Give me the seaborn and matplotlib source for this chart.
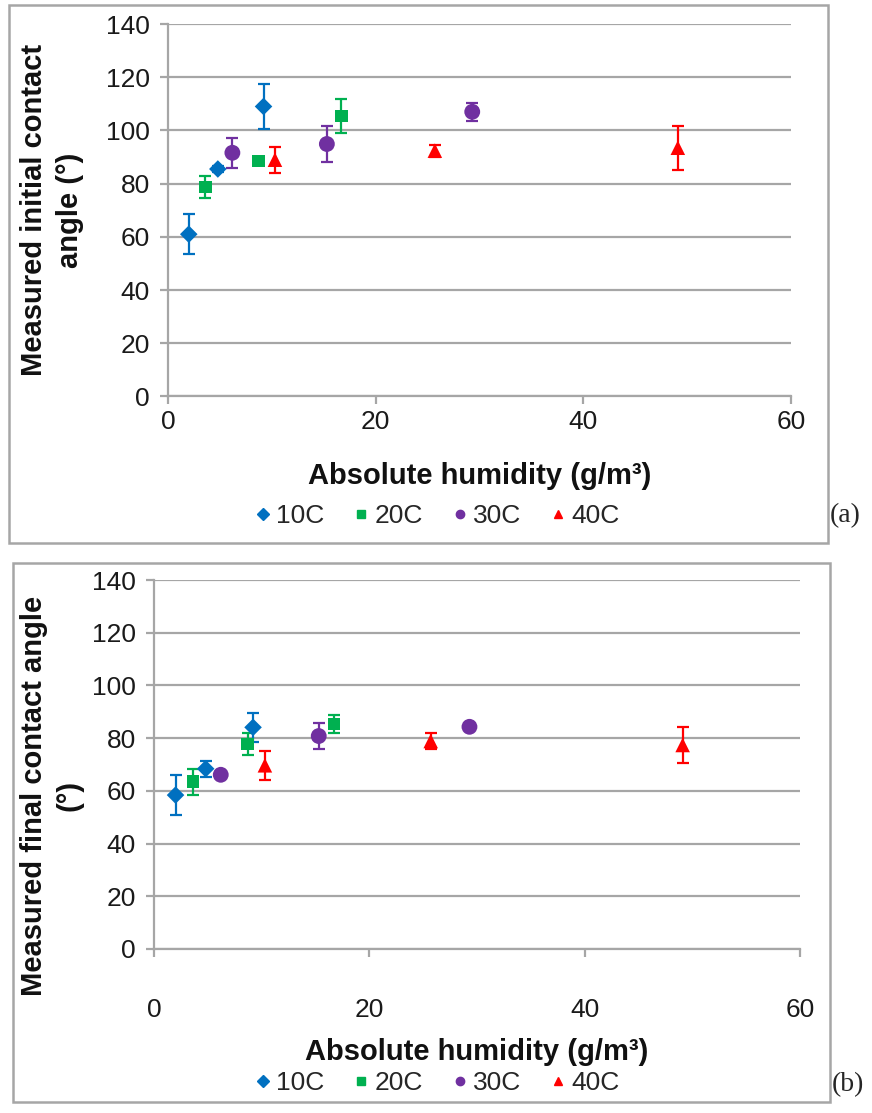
import pandas as pd
import matplotlib
matplotlib.use("Agg")
import matplotlib.pyplot as plt
import seaborn as sns
from matplotlib.patches import Rectangle
from matplotlib.lines import Line2D

# datos
temps = ["10C", "20C", "30C", "40C"]
hum_10 = [2.0, 4.8, 9.2]
hum_20 = [3.6, 8.7, 16.7]
hum_30 = [6.2, 15.3, 29.3]
hum_40 = [10.3, 25.7, 49.1]

ini_10 = [61.0, 85.5, 109.0]
ini_20 = [78.7, 88.6, 105.4]
ini_30 = [91.6, 94.9, 107.0]
ini_40 = [89.0, 92.4, 93.5]
ini_err_10 = [7.5, 1.2, 8.6]
ini_err_20 = [4.2, 1.0, 6.4]
ini_err_30 = [5.6, 6.7, 3.4]
ini_err_40 = [4.9, 2.2, 8.3]

fin_10 = [58.4, 68.4, 84.1]
fin_20 = [63.5, 77.8, 85.4]
fin_30 = [66.1, 80.8, 84.3]
fin_40 = [69.7, 78.9, 77.4]
fin_err_10 = [7.5, 3.1, 5.6]
fin_err_20 = [4.9, 4.2, 3.5]
fin_err_30 = [1.0, 5.0, 1.0]
fin_err_40 = [5.4, 3.0, 7.0]

colores = {"10C": "#0070C0", "20C": "#00B050", "30C": "#7030A0", "40C": "#FF0000"}
marcadores = {"10C": "D", "20C": "s", "30C": "o", "40C": "^"}
tam = {"10C": 80, "20C": 80, "30C": 130, "40C": 110}

def tabla(vals, errs):
    hums = [hum_10, hum_20, hum_30, hum_40]
    filas = []
    for t, h, v, e in zip(temps, hums, vals, errs):
        for hi, vi, ei in zip(h, v, e):
            filas.append({"temp": t, "hum": hi, "ang": vi, "err": ei})
    return pd.DataFrame(filas)

df_ini = tabla([ini_10, ini_20, ini_30, ini_40], [ini_err_10, ini_err_20, ini_err_30, ini_err_40])
df_fin = tabla([fin_10, fin_20, fin_30, fin_40], [fin_err_10, fin_err_20, fin_err_30, fin_err_40])

sns.set_theme(style="white")
plt.rcParams["font.family"] = ["Liberation Sans", "DejaVu Sans"]
gris = "#a6a6a6"

fig = plt.figure(figsize=(8.72, 11.13), dpi=100)
W, H = 872, 1113

def px(x0, y0, x1, y1):
    return [x0 / W, 1 - y1 / H, (x1 - x0) / W, (y1 - y0) / H]

# marcos
fig.patches.append(Rectangle((9 / W, 1 - 543 / H), 819 / W, 538 / H, transform=fig.transFigure,
                             fill=False, edgecolor=gris, lw=1.8))
fig.patches.append(Rectangle((13 / W, 1 - 1102 / H), 817 / W, 539 / H, transform=fig.transFigure,
                             fill=False, edgecolor=gris, lw=1.8))

def dibujar(ax, df, ylabel, xpad, ylab_pos, xlab_y):
    for t in temps:
        sub = df[df["temp"] == t]
        ax.errorbar(sub["hum"], sub["ang"], yerr=sub["err"], fmt="none",
                    ecolor=colores[t], elinewidth=1.6, capsize=4, capthick=1.6, zorder=3)
    sns.scatterplot(data=df, x="hum", y="ang", hue="temp", style="temp",
                    palette=colores, markers=marcadores, size="temp", sizes=tam,
                    edgecolor="none", legend=False, ax=ax, zorder=4)
    ax.set_xlim(0, 60)
    ax.set_ylim(0, 140)
    ax.set_xticks([0, 20, 40, 60])
    ax.set_yticks(range(0, 141, 20))
    ax.grid(axis="y", color=gris, lw=1.6)
    ax.grid(axis="x", visible=False)
    for s in ["top", "right"]:
        ax.spines[s].set_visible(False)
    for s in ["left", "bottom"]:
        ax.spines[s].set_color(gris)
        ax.spines[s].set_linewidth(1.6)
    ax.tick_params(axis="both", which="both", direction="out", length=6, width=1.6,
                   color=gris, labelsize=19, labelcolor="#1a1a1a", left=True, bottom=True)
    ax.tick_params(axis="x", pad=xpad)
    ax.tick_params(axis="y", pad=7)
    ax.set_xlabel("Absolute humidity (g/m³)", fontsize=21, fontweight="bold", color="#111111")
    ax.set_ylabel(ylabel, fontsize=21, fontweight="bold", color="#111111", linespacing=1.35)
    ax.yaxis.label.set_va("center")
    ax.xaxis.label.set_va("center")
    ax.yaxis.set_label_coords(ylab_pos[0], ylab_pos[1])
    ax.xaxis.set_label_coords(0.5, xlab_y)

ax1 = fig.add_axes(px(168, 24, 791, 396.5))
dibujar(ax1, df_ini, "Measured initial contact\nangle (°)", 4, (-0.186, 0.5), -0.213)

ax2 = fig.add_axes(px(154, 580, 800, 949))
dibujar(ax2, df_fin, "Measured final contact angle\n(°)", 29, (-0.158, 0.415), -0.279)

# leyendas
def leyenda(y):
    handles = [Line2D([], [], ls="none", marker=marcadores[t], color=colores[t],
                      markersize=6, label=t) for t in temps]
    fig.legend(handles=handles, loc="center", bbox_to_anchor=(0.5, y), ncol=4, frameon=False,
               fontsize=19, handletextpad=0.1, columnspacing=1.0, handlelength=0.8)

leyenda(1 - 516 / H)
leyenda(1 - 1083 / H)

fig.text(830 / W, 1 - 516 / H, "(a)", fontsize=20, family="Liberation Serif", va="center", ha="left")
fig.text(832 / W, 1 - 1085 / H, "(b)", fontsize=20, family="Liberation Serif", va="center", ha="left")

plt.savefig("out.png", dpi=100)
plt.close()
